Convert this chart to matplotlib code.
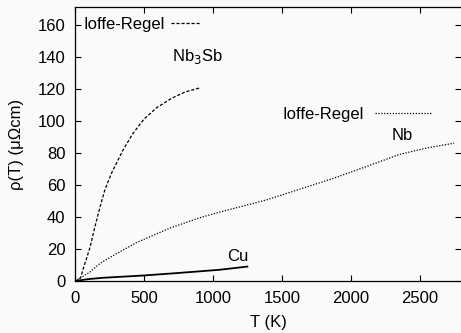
import matplotlib
matplotlib.use("Agg")
import matplotlib.pyplot as plt
import numpy as np

plt.rcParams['font.family'] = ['Liberation Sans', 'DejaVu Sans']

# Data
nb3sb_T = [0, 20, 40, 72, 109, 145, 181, 217, 266, 350, 420, 500, 590, 700, 800, 905]
nb3sb_rho = [0, 0.5, 2, 11, 21, 34, 46, 57, 67.5, 82, 92, 101, 108, 114, 118, 120.5]

nb_T = [0, 50, 109, 181, 300, 447, 688, 906, 1050, 1389, 1872, 2100, 2355, 2550, 2750]
nb_rho = [0, 2.5, 5.6, 11, 17, 24, 33, 39.5, 43, 50.6, 64, 71, 79, 83, 86]

cu_T = [0, 100, 203, 493, 750, 1050, 1250]
cu_rho = [0, 1.2, 2, 3.4, 5, 7, 9]

xticks = [0, 500, 1000, 1500, 2000, 2500]
yticks = [0, 20, 40, 60, 80, 100, 120, 140, 160]

FS = 12

fig = plt.figure(figsize=(4.61, 3.33), dpi=100)
fig.patch.set_facecolor('#fafafa')
ax = fig.add_axes([0.1627, 0.1562, 0.8373, 0.8228])
ax.set_facecolor('#fafafa')

l1, = ax.plot(nb3sb_T, nb3sb_rho, color='black', lw=0.9, linestyle=(0, (2.5, 1.5)))
l2, = ax.plot(nb_T, nb_rho, color='black', lw=0.9, linestyle=(0, (1, 1.3)))
ax.plot(cu_T, cu_rho, color='black', lw=1.3)

ax.set_xlim(0, 2800)
ax.set_ylim(0, 171)
ax.set_xticks(xticks)
ax.set_yticks(yticks)
ax.tick_params(direction='in', length=4, top=True, right=True, labelsize=FS, width=0.8, pad=7)
for s in ax.spines.values():
    s.set_linewidth(0.9)
ax.spines['right'].set_visible(False)

ax.set_xlabel('T (K)', fontsize=FS, labelpad=7)
ax.set_ylabel('ρ(T) (μΩcm)', fontsize=FS, labelpad=10)

leg1 = ax.legend([l1], ['Ioffe-Regel'], loc='upper left', bbox_to_anchor=(-0.005, 1.0),
                 frameon=False, markerfirst=False, fontsize=FS, handlelength=1.7,
                 handletextpad=0.42, borderaxespad=0.2)
ax.add_artist(leg1)
ax.legend([l2], ['Ioffe-Regel'], loc='upper left', bbox_to_anchor=(0.499, 0.691),
          frameon=False, markerfirst=False, fontsize=FS, handlelength=3.4,
          handletextpad=0.66)

ax.text(700, 140, 'Nb$_3$Sb', fontsize=FS, ha='left', va='center')
ax.text(2300, 91, 'Nb', fontsize=FS, ha='left', va='center')
ax.text(1100, 15, 'Cu', fontsize=FS, ha='left', va='center')

fig.savefig('out.png', dpi=100, facecolor=fig.get_facecolor())
